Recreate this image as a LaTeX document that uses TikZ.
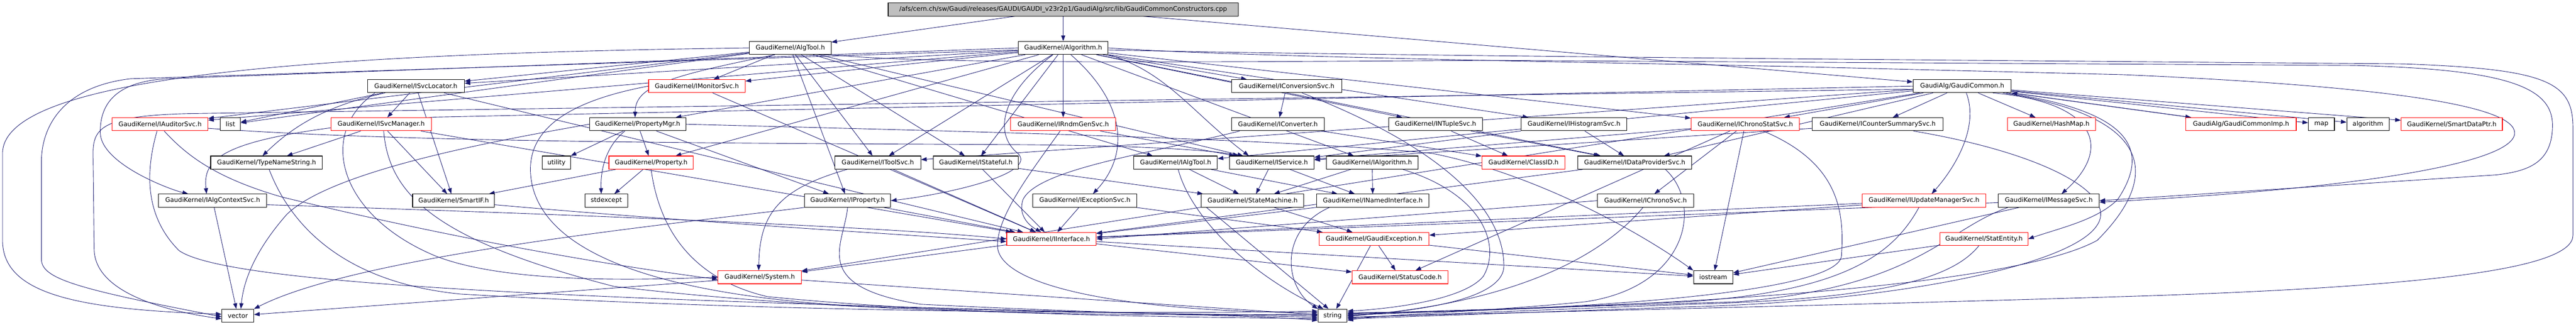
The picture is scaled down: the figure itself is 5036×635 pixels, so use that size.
\documentclass[tikz,border=0pt]{standalone}
\usepackage{fontspec}
\setmainfont{DejaVu Sans}
\usetikzlibrary{arrows.meta}
\pgfdeclarelayer{bg}
\pgfsetlayers{bg,main}
\definecolor{edgec}{HTML}{191970}
\definecolor{rootfill}{HTML}{BFBFBF}
\definecolor{trunc}{HTML}{FF0000}
\tikzset{
  nd/.style={draw=black, line width=1.1pt, fill=white, minimum height=25.6pt, inner sep=0pt,
             font=\fontsize{12.4}{14}\selectfont, text=black},
  rd/.style={nd, draw=trunc},
  e/.style={draw=edgec, line width=0.9pt, -{Triangle[length=11pt,width=8pt]}},
}
\begin{document}
\begin{tikzpicture}[x=1pt,y=-1pt]
\useasboundingbox (0,0) rectangle (5036,635);
% row 0
\node[nd, fill=rootfill, minimum width=684.2pt] (root) at (2078.5,18.5) {/afs/cern.ch/sw/Gaudi/releases/GAUDI/GAUDI\_v23r2p1/GaudiAlg/src/lib/GaudiCommonConstructors.cpp};
% row 1
\node[nd, minimum width=159.5pt] (algtool) at (1545,93.7) {GaudiKernel/AlgTool.h};
\node[nd, minimum width=175.6pt] (algorithm) at (2078.5,93.7) {GaudiKernel/Algorithm.h};
% row 2
\node[nd, minimum width=189.5pt] (svcloc) at (813,168.4) {GaudiKernel/ISvcLocator.h};
\node[rd, minimum width=188.7pt] (monitor) at (1362.4,168.4) {GaudiKernel/IMonitorSvc.h};
\node[nd, minimum width=214.8pt] (convsvc) at (2515.4,168.4) {GaudiKernel/IConversionSvc.h};
\node[nd, minimum width=192pt] (common) at (3836,168.4) {GaudiAlg/GaudiCommon.h};
% row 3
\node[rd, minimum width=187pt] (auditor) at (313,242.9) {GaudiKernel/IAuditorSvc.h};
\node[nd, minimum width=39pt] (list) at (450.5,242.9) {list};
\node[rd, minimum width=196.8pt] (svcmgr) at (745.1,242.9) {GaudiKernel/ISvcManager.h};
\node[nd, minimum width=188.2pt] (propmgr) at (1246.6,242.9) {GaudiKernel/PropertyMgr.h};
\node[rd, minimum width=206pt] (rndm) at (2078.5,242.9) {GaudiKernel/IRndmGenSvc.h};
\node[nd, minimum width=180.7pt] (converter) at (2498.3,242.9) {GaudiKernel/IConverter.h};
\node[nd, minimum width=182.7pt] (ntuple) at (2806.4,242.9) {GaudiKernel/INTupleSvc.h};
\node[nd, minimum width=207pt] (histo) at (3077.1,242.9) {GaudiKernel/IHistogramSvc.h};
\node[rd, minimum width=212pt] (chronostat) at (3412,242.9) {GaudiKernel/IChronoStatSvc.h};
\node[nd, minimum width=256pt] (counter) at (3670.8,242.9) {GaudiKernel/ICounterSummarySvc.h};
\node[rd, minimum width=172pt] (hashmap) at (4010.4,242.9) {GaudiKernel/HashMap.h};
\node[rd, minimum width=215.8pt] (commonimp) at (4381.1,242.9) {GaudiAlg/GaudiCommonImp.h};
\node[nd, minimum width=50.8pt] (map) at (4538.2,242.9) {map};
\node[nd, minimum width=82.5pt] (algorithmstd) at (4629.2,242.9) {algorithm};
\node[rd, minimum width=197.9pt] (smartdataptr) at (4793,242.9) {GaudiKernel/SmartDataPtr.h};
% row 4
\node[nd, minimum width=218.5pt] (typename) at (521.2,318) {GaudiKernel/TypeNameString.h};
\node[nd, minimum width=54.8pt] (utility) at (1087.8,318) {utility};
\node[rd, minimum width=164.8pt] (property) at (1272.9,318) {GaudiKernel/Property.h};
\node[nd, minimum width=168pt] (toolsvc) at (1716,318) {GaudiKernel/IToolSvc.h};
\node[nd, minimum width=165.9pt] (stateful) at (1907.8,318) {GaudiKernel/IStateful.h};
\node[nd, minimum width=163.2pt] (ialgtool) at (2298.3,318) {GaudiKernel/IAlgTool.h};
\node[nd, minimum width=165.2pt] (iservice) at (2486.4,318) {GaudiKernel/IService.h};
\node[nd, minimum width=178.9pt] (ialgorithm) at (2682.5,318) {GaudiKernel/IAlgorithm.h};
\node[rd, minimum width=162.7pt] (classid) at (2978.4,318) {GaudiKernel/ClassID.h};
\node[nd, minimum width=222.3pt] (dataprov) at (3195.9,318) {GaudiKernel/IDataProviderSvc.h};
% row 5
\node[nd, minimum width=211.5pt] (algctx) at (415.8,392.4) {GaudiKernel/IAlgContextSvc.h};
\node[nd, minimum width=160pt] (smartif) at (886.8,392.4) {GaudiKernel/SmartIF.h};
\node[nd, minimum width=84.1pt] (stdexcept) at (1185.4,392.4) {stdexcept};
\node[nd, minimum width=168.6pt] (iproperty) at (1657,392.4) {GaudiKernel/IProperty.h};
\node[nd, minimum width=203.8pt] (excsvc) at (2120.8,392.4) {GaudiKernel/IExceptionSvc.h};
\node[nd, minimum width=200.5pt] (statemachine) at (2448.8,392.4) {GaudiKernel/StateMachine.h};
\node[nd, minimum width=219.6pt] (named) at (2683.8,392.4) {GaudiKernel/INamedInterface.h};
\node[nd, minimum width=187.7pt] (chrono) at (3216.9,392.4) {GaudiKernel/IChronoSvc.h};
\node[rd, minimum width=241.8pt] (update) at (3761.3,392.4) {GaudiKernel/IUpdateManagerSvc.h};
\node[nd, minimum width=197.3pt] (msgsvc) at (4005.3,392.4) {GaudiKernel/IMessageSvc.h};
% row 6
\node[rd, minimum width=175pt] (iinterface) at (2055.5,467.3) {GaudiKernel/IInterface.h};
\node[rd, minimum width=214.7pt] (gexc) at (2686.3,467.3) {GaudiKernel/GaudiException.h};
\node[rd, minimum width=171.8pt] (statentity) at (3878.6,467.3) {GaudiKernel/StatEntity.h};
% row 7
\node[rd, minimum width=163.1pt] (system) at (1485.2,542.2) {GaudiKernel/System.h};
\node[rd, minimum width=187.6pt] (statuscode) at (2737.2,542.2) {GaudiKernel/StatusCode.h};
\node[nd, minimum width=77.1pt] (iostream) at (3349.3,542.2) {iostream};
% row 8
\node[nd, minimum width=62.3pt] (vector) at (464.9,617.4) {vector};
\node[nd, minimum width=57pt] (string) at (2605.2,617.4) {string};

\begin{pgfonlayer}{bg}
\fill[white] (0,0) rectangle (5036,635);
% root
\draw[e] (root) -- (algtool);
\draw[e] (root) -- (algorithm);
\draw[e] (root) -- (common);
% AlgTool
\draw[e] (algtool) -- (svcloc);
\draw[e] (algtool) -- (monitor);
\draw[e] ([xshift=-30]algtool.south) .. controls (1300,150) and (1242,170) .. ([xshift=-5]propmgr.north);
\draw[e] (algtool) -- (iproperty);
\draw[e] (algtool) -- (ialgtool);
\draw[e] (algtool) -- (iservice);
\draw[e] (algtool) -- (toolsvc);
\draw[e] (algtool) -- (stateful);
\draw[e] (algtool) -- (auditor);
\draw[e] (algtool) -- (list);
\draw[e] (algtool.west) .. controls (600,105) and (5,150) .. (5,300) -- (5,470) .. controls (5,575) and (150,605) .. ([yshift=3]vector.west);
\draw[e] (algtool.south east) .. controls (1800,125) and (2300,122) .. (2900,118) -- (4600,128) .. controls (4900,135) and (4990,170) .. (4990,245) .. controls (4990,320) and (4940,335) .. (4880,342) -- (msgsvc.east);
% Algorithm
\draw[e] (algorithm) -- (svcloc);
\draw[e] (algorithm) -- (auditor);
\draw[e] (algorithm.west) -- (325,154) .. controls (230,160) and (195,200) .. (196,260) .. controls (198,320) and (330,370) .. ([xshift=-48]algctx.north);
\draw[e] (algorithm) -- (monitor);
\draw[e] (algorithm) -- (propmgr);
\draw[e] (algorithm) -- (property);
\draw[e] (algorithm) -- (toolsvc);
\draw[e] (algorithm) -- (stateful);
\draw[e] (algorithm) -- (rndm);
\draw[e] ([xshift=-20]algorithm.south) .. controls (1960,180) and (1940,260) .. (1990,300) .. controls (2030,340) and (1850,380) .. (iproperty.east);
\draw[e] ([xshift=15]algorithm.south) .. controls (2200,200) and (2210,300) .. ([xshift=16]excsvc.north);
\draw[e] (algorithm) -- (ialgorithm);
\draw[e] (algorithm.south east) .. controls (2280,140) and (2330,220) .. ([xshift=-45]iservice.north);
\draw[e] (algorithm) -- (convsvc);
\draw[e] (algorithm) -- (ntuple);
\draw[e] (algorithm) -- (histo);
\draw[e] (algorithm) -- (dataprov);
\draw[e] (algorithm) -- (chronostat);
\draw[e] (algorithm.east) .. controls (2400,110) and (3000,120) .. (3500,130) -- (4150,146) .. controls (4700,170) and (4916,210) .. (4916,260) .. controls (4916,320) and (4600,370) .. ([yshift=-3]msgsvc.east);
\draw[e] ([yshift=-4]algorithm.west) -- (255,154) .. controls (120,170) and (81,250) .. (81,316) -- (81,507) .. controls (81,545) and (150,565) .. ([yshift=-2]vector.west);
\draw[e] ([yshift=-4]algorithm.east) .. controls (2500,105) and (3000,110) .. (3500,115) -- (4700,125) .. controls (4980,135) and (5030,160) .. (5030,250) -- (5030,460) .. controls (5030,520) and (4800,560) .. (4150,580) .. controls (3500,600) and (2900,612) .. ([yshift=-3]string.east);
% GaudiCommon
\draw[e] (common) -- (commonimp);
\draw[e] (commonimp) -- (common.south east);
\draw[e] (common) -- (map);
\draw[e] (common) -- (algorithmstd);
\draw[e] (common) -- (smartdataptr);
\draw[e] (common) -- (hashmap);
\draw[e] (common) -- (counter);
\draw[e] (common) -- (chronostat);
\draw[e] ([xshift=8]common.south) .. controls (3870,250) and (3820,330) .. ([xshift=15]update.north);
\draw[e] ([xshift=60]common.south) .. controls (4100,200) and (4130,290) .. ([xshift=25]msgsvc.north);
\draw[e] ([xshift=-10]common.south east) .. controls (4180,220) and (4200,300) .. (4140,390) .. controls (4100,430) and (4030,445) .. (statentity.east);
\draw[e] (common.west) -- (850,229) .. controls (450,262) and (395,300) .. ([xshift=-12]algctx.north);
\draw[e] (common) -- (ialgtool);
\draw[e] (common) -- (toolsvc);
\draw[e] (common) -- (dataprov);
\draw[e] (common) -- (system);
\draw[e] ([yshift=-6]common.west) -- (380,222) .. controls (200,225) and (182,250) .. (182,300) -- (184,487) .. controls (185,580) and (350,612) .. ([yshift=-6]vector.west);
\draw[e] ([xshift=80]common.south) .. controls (4220,230) and (4220,350) .. (4100,470) .. controls (3900,580) and (3000,605) .. ([yshift=3]string.east);
% ISvcLocator
\draw[e] (svcloc) -- (list);
\draw[e] (svcloc) -- (svcmgr);
\draw[e] ([xshift=-60]svcloc.south) .. controls (620,210) and (560,260) .. ([xshift=-8]typename.north);
\draw[e] (svcloc) -- (smartif);
\draw[e] (svcloc) -- (iinterface);
\draw[e] ([xshift=-80]svcloc.south) .. controls (620,260) and (660,420) .. (850,500) .. controls (1000,560) and (1300,545) .. (system.west);
% ISvcManager
\draw[e] (svcmgr) -- (typename);
\draw[e] (svcmgr) -- (smartif);
\draw[e] (svcmgr) -- (iinterface);
\draw[e] ([xshift=5]svcmgr.south) .. controls (760,380) and (850,470) .. (1200,560) .. controls (1700,620) and (2300,617) .. ([yshift=3]string.west);
% IAuditorSvc
\draw[e] ([yshift=-8]auditor.east) .. controls (800,280) and (1500,280) .. (2000,283) .. controls (2250,285) and (2380,295) .. ([xshift=-65]iservice.north);
\draw[e] ([xshift=-6]auditor.south) .. controls (280,350) and (290,430) .. (350,490) .. controls (450,560) and (1200,590) .. ([yshift=-3]string.west);
\draw[e] ([xshift=8]auditor.south) .. controls (370,310) and (430,350) .. (550,385) .. controls (900,470) and (1200,520) .. ([yshift=-4]system.west);
% PropertyMgr
\draw[e] (propmgr) -- (utility);
\draw[e] (propmgr) -- (property);
\draw[e] ([xshift=-25]propmgr.south) .. controls (1180,290) and (1174,340) .. ([xshift=-10]stdexcept.north);
\draw[e] (propmgr) -- (iproperty);
\draw[e] (propmgr.west) .. controls (1000,270) and (650,330) .. (560,420) .. controls (490,500) and (475,560) .. ([xshift=6]vector.north);
\draw[e] (propmgr.east) .. controls (1800,255) and (2500,270) .. (2800,300) .. controls (3000,340) and (3200,450) .. (iostream.north west);
% Property
\draw[e] (property) -- (smartif);
\draw[e] (property) -- (stdexcept);
\draw[e] (property.south) .. controls (1285,420) and (1330,540) .. (1500,580) .. controls (1900,620) and (2400,620) .. ([yshift=-6]string.west);
% IMonitorSvc
\draw[e] (monitor) -- (iinterface);
\draw[e] (monitor.west) .. controls (1100,200) and (1020,260) .. (1040,360) .. controls (1070,500) and (1300,580) .. (1700,600) .. controls (2100,612) and (2400,615) .. (string.west);
% IConversionSvc / IConverter
\draw[e] (convsvc) -- (converter);
\draw[e] ([xshift=30]convsvc.south) .. controls (2800,280) and (2940,400) .. (2940,520) .. controls (2940,590) and (2750,610) .. (string.east);
\draw[e] (converter) -- (classid);
\draw[e] ([xshift=-75]converter.south) .. controls (2250,300) and (2030,330) .. (2000,390) .. controls (1990,420) and (2010,440) .. ([xshift=-20]iinterface.north);
% IRndmGenSvc
\draw[e] ([xshift=-6]rndm.south) .. controls (2020,330) and (1950,420) .. (1950,480) .. controls (1950,560) and (2200,610) .. ([yshift=6]string.west);
\draw[e] (rndm) -- (iservice);
% INTupleSvc / IHistogramSvc
\draw[e] (ntuple) -- (classid);
\draw[e] (ntuple) -- (dataprov);
\draw[e] (histo) -- (dataprov);
\draw[e] (histo) -- (iservice);
% IChronoStatSvc
\draw[e] (chronostat) -- (chrono);
\draw[e] (chronostat) -- (iostream);
\draw[e] (chronostat) -- (statuscode);
\draw[e] (chronostat) -- (iservice);
\draw[e] ([xshift=35]chronostat.south) .. controls (3600,320) and (3605,420) .. (3600,500) .. controls (3595,580) and (3000,610) .. ([yshift=6]string.east);
% ICounterSummarySvc
\draw[e] (counter) -- (iservice);
\draw[e] ([xshift=70]counter.south) .. controls (4000,300) and (4140,380) .. (4100,440) .. controls (4050,520) and (3700,590) .. (3300,600) -- ([yshift=-6]string.east);
% TypeNameString
\draw[e] ([xshift=5]typename.south) .. controls (560,420) and (650,550) .. (900,575) .. controls (1500,610) and (2200,615) .. ([yshift=9]string.west);
% IToolSvc / IStateful
\draw[e] (toolsvc) -- (iinterface);
\draw[e] ([xshift=-60]toolsvc.south) .. controls (1520,370) and (1485,420) .. ([xshift=-2]system.north);
\draw[e] (stateful) -- (iinterface);
\draw[e] (stateful) -- (statemachine);
% IAlgTool / IService / IAlgorithm
\draw[e] (ialgtool) -- (named);
\draw[e] (ialgtool) -- (statemachine);
\draw[e] ([xshift=5]ialgtool.south) .. controls (2330,430) and (2450,540) .. ([xshift=-18]string.north);
\draw[e] (iservice) -- (named);
\draw[e] (iservice) -- (statemachine);
\draw[e] (ialgorithm) -- (named);
\draw[e] (ialgorithm) -- (statemachine);
\draw[e] ([xshift=60]ialgorithm.south) .. controls (2900,380) and (2935,480) .. (2900,540) .. controls (2860,590) and (2700,605) .. ([yshift=9]string.east);
% IDataProviderSvc
\draw[e] (dataprov) -- (iinterface);
\draw[e] ([xshift=60]dataprov.south) .. controls (3330,400) and (3300,560) .. (3100,590) .. controls (2900,610) and (2700,615) .. ([yshift=-9]string.east);
% IAlgContextSvc / SmartIF / IProperty
\draw[e] (algctx) -- (vector);
\draw[e] ([yshift=-8]algctx.east) .. controls (900,412) and (1700,440) .. (iinterface.west);
\draw[e] ([yshift=-8]smartif.east) .. controls (1300,430) and (1700,455) .. ([yshift=-5]iinterface.west);
\draw[e] (iproperty) -- (iinterface);
\draw[e] (iproperty.south west) .. controls (1300,440) and (700,500) .. (vector.north east);
\draw[e] (iproperty.south) .. controls (1650,480) and (1580,560) .. (1800,595) .. controls (2200,615) and (2450,616) .. ([yshift=-9]string.west);
% IExceptionSvc / StateMachine / INamedInterface
\draw[e] (excsvc) -- (iinterface);
\draw[e] (excsvc) -- (gexc);
\draw[e] (statemachine) -- (gexc);
\draw[e] ([xshift=-90]statemachine.south) -- ([xshift=-8]string.north);
\draw[e] (named) -- (iinterface);
\draw[e] ([xshift=-85]named.south) .. controls (2500,450) and (2510,560) .. (string.north west);
% IChronoSvc / IUpdateManagerSvc / IMessageSvc
\draw[e] (chrono.west) -- (iinterface.east);
\draw[e] ([xshift=-5]chrono.south) .. controls (3150,480) and (3000,590) .. ([yshift=-1]string.east);
\draw[e] (update) -- (iinterface);
\draw[e] (update) -- (gexc);
\draw[e] ([xshift=-10]update.south) .. controls (3700,500) and (3600,570) .. (3300,590) -- ([yshift=1]string.east);
\draw[e] (msgsvc) -- (iinterface);
\draw[e] (msgsvc) -- (iostream);
\draw[e] ([xshift=-80]msgsvc.south) .. controls (3800,450) and (3750,560) .. (3400,590) -- ([yshift=4]string.east);
% IInterface / GaudiException / StatEntity / System
\draw[e] (iinterface) -- (statuscode);
\draw[e] (iinterface) -- (system);
\draw[e] (iinterface) -- (iostream);
\draw[e] (gexc) -- (statuscode);
\draw[e] (gexc) -- (string);
\draw[e] (gexc) -- (iostream);
\draw[e] (statentity) -- (iostream);
\draw[e] ([xshift=-10]statentity.south) .. controls (3820,540) and (3700,585) .. (3300,595) -- ([yshift=-4]string.east);
\draw[e] (system) -- (string);
\draw[e] (system) -- (vector);
\end{pgfonlayer}
\end{tikzpicture}
\end{document}
